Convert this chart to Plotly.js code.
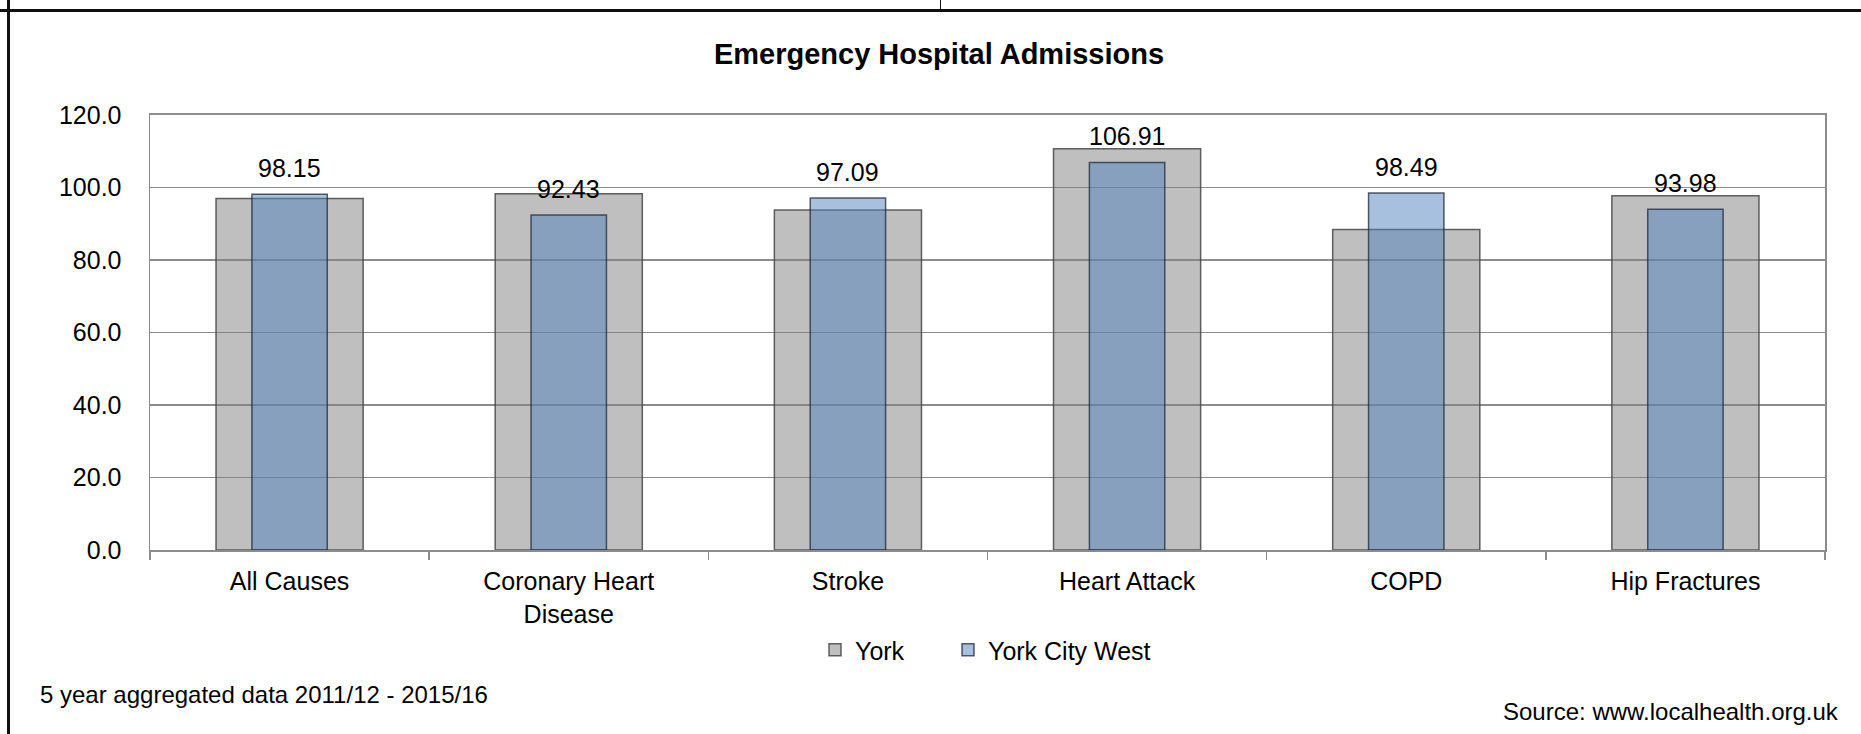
<!DOCTYPE html>
<html>
<head>
<meta charset="utf-8">
<script src="https://cdn.plot.ly/plotly-3.0.1.min.js"></script>
<style>
  html, body { margin: 0; padding: 0; background: #fff; }
  #wrap { position: relative; width: 1861px; height: 734px; overflow: hidden; }
  #chart { position: absolute; left: 0; top: 0; width: 1861px; height: 734px; }
  .bl { position: absolute; background: #111; z-index: 5; }
</style>
</head>
<body>
<div id="wrap">
  <div id="chart"></div>
  <div class="bl" style="left:0;top:9px;width:1861px;height:3px;"></div>
  <div class="bl" style="left:7px;top:0;width:3px;height:734px;"></div>
  <div class="bl" style="left:940px;top:0;width:1px;height:11px;"></div>
</div>
<script>
// ---- data ----
const categories = ["All Causes", "Coronary Heart<br>Disease", "Stroke", "Heart Attack", "COPD", "Hip Fractures"];
const yorkValues = [97.0, 98.3, 93.8, 110.7, 88.4, 97.7];
const yorkCityWestValues = [98.15, 92.43, 97.09, 106.91, 98.49, 93.98];
const yTickValues = [0, 20, 40, 60, 80, 100, 120];
const seriesNames = ["York", "York City West"];
const chartTitle = "Emergency Hospital Admissions";
const footnoteLeft = "5 year aggregated data 2011/12 - 2015/16";
const footnoteRight = "Source: www.localhealth.org.uk";

// ---- layout geometry ----
const W = 1861, H = 734;
const plotL = 150, plotR = 1825, plotT = 115, plotB = 550;
const pw = plotR - plotL, ph = plotB - plotT;
const px2x = p => (p - plotL) / pw;
const py2y = p => (plotB - p) / ph;

const FONT = "Liberation Sans, Arial, Helvetica, sans-serif";

const traces = [
  {
    type: "bar",
    name: seriesNames[0],
    legend: "legend",
    x: categories,
    y: yorkValues,
    width: 0.527,
    marker: { color: "rgba(128,128,128,0.5)", line: { color: "rgba(70,70,70,0.85)", width: 1.5 } },
    hoverinfo: "x+y"
  },
  {
    type: "bar",
    name: seriesNames[1],
    legend: "legend2",
    x: categories,
    y: yorkCityWestValues,
    width: 0.27,
    marker: { color: "rgba(79,129,189,0.5)", line: { color: "rgba(30,40,60,0.75)", width: 1.5 } },
    hoverinfo: "x+y"
  }
];

const annotations = categories.map((c, i) => ({
  x: c, y: yorkCityWestValues[i], xref: "x", yref: "y",
  text: yorkCityWestValues[i].toFixed(2),
  showarrow: false, xanchor: "center", yanchor: "bottom", yshift: 10,
  font: { family: FONT, size: 25, color: "#000" }
}));

annotations.push({
  xref: "paper", yref: "paper", x: px2x(38), y: py2y(694),
  xanchor: "left", yanchor: "middle", showarrow: false,
  text: footnoteLeft, font: { family: FONT, size: 24, color: "#000" }
});
annotations.push({
  xref: "paper", yref: "paper", x: px2x(1841), y: py2y(711),
  xanchor: "right", yanchor: "middle", showarrow: false,
  text: footnoteRight, font: { family: FONT, size: 24, color: "#000" }
});

const legendCommon = {
  orientation: "h",
  xanchor: "left",
  y: py2y(650), yanchor: "middle",
  font: { family: FONT, size: 25, color: "#000" },
  bgcolor: "rgba(0,0,0,0)",
  borderwidth: 0
};

const layout = {
  width: W, height: H,
  paper_bgcolor: "#fff", plot_bgcolor: "#fff",
  margin: { l: plotL, r: W - plotR, t: plotT, b: H - plotB, pad: 0 },
  font: { family: FONT, size: 25, color: "#000" },
  title: {
    text: "<b>" + chartTitle + "</b>",
    font: { family: FONT, size: 29, color: "#000" },
    xref: "container", yref: "container",
    x: 939 / W, xanchor: "center",
    y: 1 - 54 / H, yanchor: "middle"
  },
  barmode: "overlay",
  bargap: 0,
  showlegend: true,
  legend: Object.assign({}, legendCommon, { x: px2x(835 - 20) }),
  legend2: Object.assign({}, legendCommon, { x: px2x(968 - 20) }),
  xaxis: {
    type: "category",
    showgrid: false,
    showline: true, linecolor: "#8c8c8c", linewidth: 2, mirror: true,
    ticks: "outside", tickson: "boundaries", ticklen: 8, tickcolor: "#8c8c8c", tickwidth: 1.5,
    ticklabelstandoff: 8,
    tickfont: { family: FONT, size: 25, color: "#000" },
    fixedrange: true
  },
  yaxis: {
    range: [0, 120],
    tickvals: yTickValues,
    ticktext: yTickValues.map(v => v.toFixed(1)),
    showgrid: true, gridcolor: "#8c8c8c", gridwidth: 1.5,
    showline: true, linecolor: "#8c8c8c", linewidth: 1.5, mirror: true,
    zeroline: false,
    ticks: "", ticklabelstandoff: 22,
    tickfont: { family: FONT, size: 25, color: "#000" },
    fixedrange: true
  },
  annotations: annotations
};

Plotly.newPlot("chart", traces, layout, { displayModeBar: false, staticPlot: true });
</script>
</body>
</html>
